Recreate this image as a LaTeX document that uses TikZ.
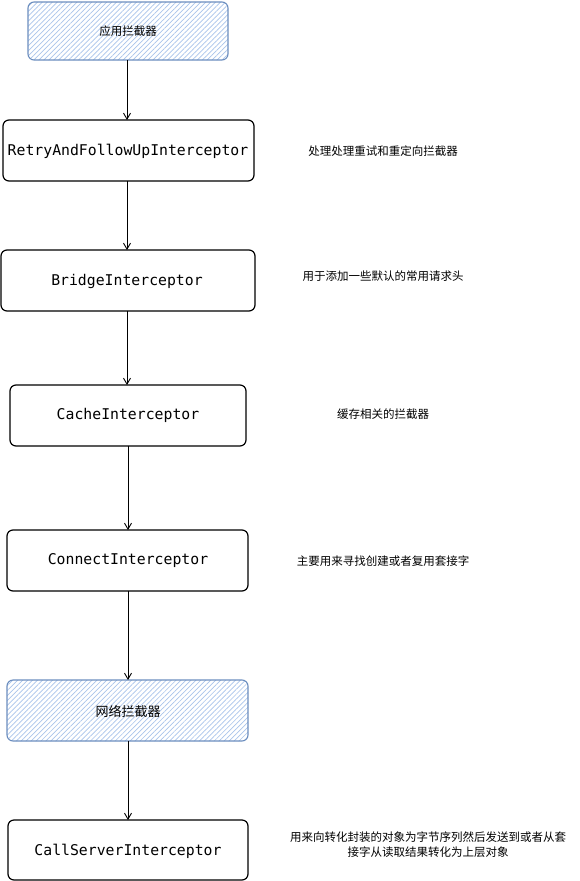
\documentclass[tikz,border=0pt]{standalone}
\usepackage{fontspec}
\setmonofont{DejaVu Sans Mono}
\newfontfamily\cjk{Noto Sans CJK SC}
\usetikzlibrary{patterns.meta,arrows.meta}
\definecolor{hatchblue}{HTML}{A9C4EB}
\definecolor{borderblue}{HTML}{6C8EBF}
\tikzset{
  box/.style={draw=black, line width=1.2pt, rounded corners=6pt},
  bluebox/.style={draw=borderblue, line width=1.1pt, rounded corners=6pt, pattern={Lines[angle=45,distance=3.5pt,line width=0.7pt]}, pattern color=hatchblue},
  mono/.style={font=\ttfamily\fontsize{14.8}{17}\selectfont},
  cjkt/.style={font=\cjk\fontsize{11.5}{15}\selectfont},
  arr/.style={-{Straight Barb[length=6pt,width=7pt]}, line width=0.9pt, black},
}
\begin{document}
\begin{tikzpicture}[x=1pt,y=-1pt]
\useasboundingbox (0,0) rectangle (580,881);
\fill[white] (0,0) rectangle (580,881);
% boxes
\draw[bluebox] (28,2) rectangle (228,60);
\node[cjkt] (n1) at (128,31) {应用拦截器};
\coordinate (b1) at (127,60);
\draw[box] (3,120) rectangle (254,181);
\node[mono] (n2) at (128,151) {RetryAndFollowUpInterceptor};
\coordinate (t2) at (127,120); \coordinate (b2) at (127,181);
\draw[box] (1,250) rectangle (255,311);
\node[mono] (n3) at (127,281) {BridgeInterceptor};
\coordinate (t3) at (127,250); \coordinate (b3) at (127,311);
\draw[box] (10,385) rectangle (246,446);
\node[mono] (n4) at (128,415) {CacheInterceptor};
\coordinate (t4) at (127,385); \coordinate (b4) at (128,446);
\draw[box] (7,530) rectangle (248,591);
\node[mono] (n5) at (128,561) {ConnectInterceptor};
\coordinate (t5) at (128,530); \coordinate (b5) at (128,591);
\draw[bluebox] (7,680) rectangle (248,741);
\node[cjkt,font=\cjk\fontsize{13}{15}\selectfont] (n6) at (128,711) {网络拦截器};
\coordinate (t6) at (128,680); \coordinate (b6) at (128,741);
\draw[box] (8,820) rectangle (248,880);
\node[mono] (n7) at (128,851) {CallServerInterceptor};
\coordinate (t7) at (128,820);
% arrows
\draw[arr] (b1) -- (t2);
\draw[arr] (b2) -- (t3);
\draw[arr] (b3) -- (t4);
\draw[arr] (b4) -- (t5);
\draw[arr] (b5) -- (t6);
\draw[arr] (b6) -- (t7);
% labels
\node[cjkt] (l2) at (383,151) {处理处理重试和重定向拦截器};
\node[cjkt] (l3) at (383,276) {用于添加一些默认的常用请求头};
\node[cjkt] (l4) at (383,414) {缓存相关的拦截器};
\node[cjkt] (l5) at (383,561) {主要用来寻找创建或者复用套接字};
\node[cjkt, align=center] (l7) at (428,845) {用来向转化封装的对象为字节序列然后发送到或者从套\\接字从读取结果转化为上层对象};
\end{tikzpicture}
\end{document}
